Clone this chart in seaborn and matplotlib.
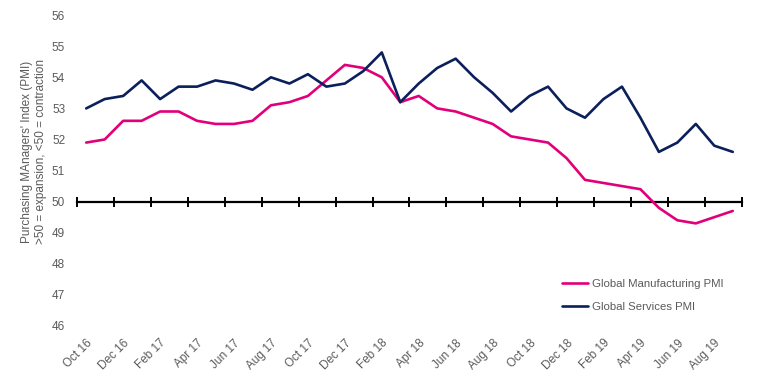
import matplotlib
matplotlib.use('Agg')
import matplotlib.pyplot as plt
import seaborn as sns
import numpy as np
import pandas as pd

# ========== data ==========
months = ['Oct 16', 'Nov 16', 'Dec 16', 'Jan 17', 'Feb 17', 'Mar 17', 'Apr 17', 'May 17', 'Jun 17',
          'Jul 17', 'Aug 17', 'Sep 17', 'Oct 17', 'Nov 17', 'Dec 17', 'Jan 18', 'Feb 18', 'Mar 18',
          'Apr 18', 'May 18', 'Jun 18', 'Jul 18', 'Aug 18', 'Sep 18', 'Oct 18', 'Nov 18', 'Dec 18',
          'Jan 19', 'Feb 19', 'Mar 19', 'Apr 19', 'May 19', 'Jun 19', 'Jul 19', 'Aug 19', 'Sep 19']

manufacturing = [51.9, 52.0, 52.6, 52.6, 52.9, 52.9, 52.6, 52.5, 52.5, 52.6, 53.1, 53.2,
                 53.4, 53.9, 54.4, 54.3, 54.0, 53.2, 53.4, 53.0, 52.9, 52.7, 52.5, 52.1,
                 52.0, 51.9, 51.4, 50.7, 50.6, 50.5, 50.4, 49.8, 49.4, 49.3, 49.5, 49.7]

services = [53.0, 53.3, 53.4, 53.9, 53.3, 53.7, 53.7, 53.9, 53.8, 53.6, 54.0, 53.8,
            54.1, 53.7, 53.8, 54.2, 54.8, 53.2, 53.8, 54.3, 54.6, 54.0, 53.5, 52.9,
            53.4, 53.7, 53.0, 52.7, 53.3, 53.7, 52.7, 51.6, 51.9, 52.5, 51.8, 51.6]

series_names = ['Global Manufacturing PMI', 'Global Services PMI']
series_colors = ['#E2007A', '#0B1F5B']

# ========== style ==========
sns.set_style('white')
plt.rcParams['font.family'] = ['Liberation Sans', 'DejaVu Sans']
TEXT = '#5a5a5a'

df = pd.DataFrame({
    'idx': list(range(len(months))) * 2,
    'value': manufacturing + services,
    'series': [series_names[0]] * len(months) + [series_names[1]] * len(months),
})

fig = plt.figure(figsize=(7.57, 3.79), dpi=100)
ax = fig.add_axes([0.1017, 0.140, 0.8785, 0.820])

sns.lineplot(data=df, x='idx', y='value', hue='series', hue_order=series_names,
             palette=series_colors, linewidth=1.9, ax=ax)

ax.set_xlim(-0.5, len(months) - 0.5)
ax.set_ylim(46, 56)
ax.set_yticks(range(46, 57))
ax.set_xticks(range(0, len(months), 2), labels=months[::2])
for lab in ax.get_xticklabels():
    lab.set_rotation(45)
    lab.set_ha('right')
    lab.set_rotation_mode('anchor')
ax.tick_params(axis='x', length=0, pad=8, labelsize=8.5, labelcolor=TEXT)
ax.tick_params(axis='y', length=0, pad=8.5, labelsize=8.5, labelcolor=TEXT)
for s in ax.spines.values():
    s.set_visible(False)

ax.set_xlabel('')
ax.set_ylabel("Purchasing MAnagers' Index (PMI)\n>50 = expansion, <50 = contraction",
              fontsize=8.5, color=TEXT)
ax.yaxis.set_label_coords(-0.045, 0.56)

# the 50 line acts as the x axis, with tick marks on category boundaries
sec = ax.secondary_xaxis(0.4)
sec.set_xticks(np.arange(-0.5, len(months), 2))
sec.tick_params(direction='inout', length=7, width=1.4, color='black',
                labelbottom=False, labeltop=False)
sec.spines['bottom'].set_linewidth(1.6)
sec.spines['bottom'].set_color('black')

ax.legend(frameon=False, loc='lower left', bbox_to_anchor=(0.714, 0.012),
          fontsize=8.2, handlelength=2.3, handletextpad=0.3, labelspacing=1.1,
          labelcolor=TEXT)

fig.savefig('out.png', dpi=100)
